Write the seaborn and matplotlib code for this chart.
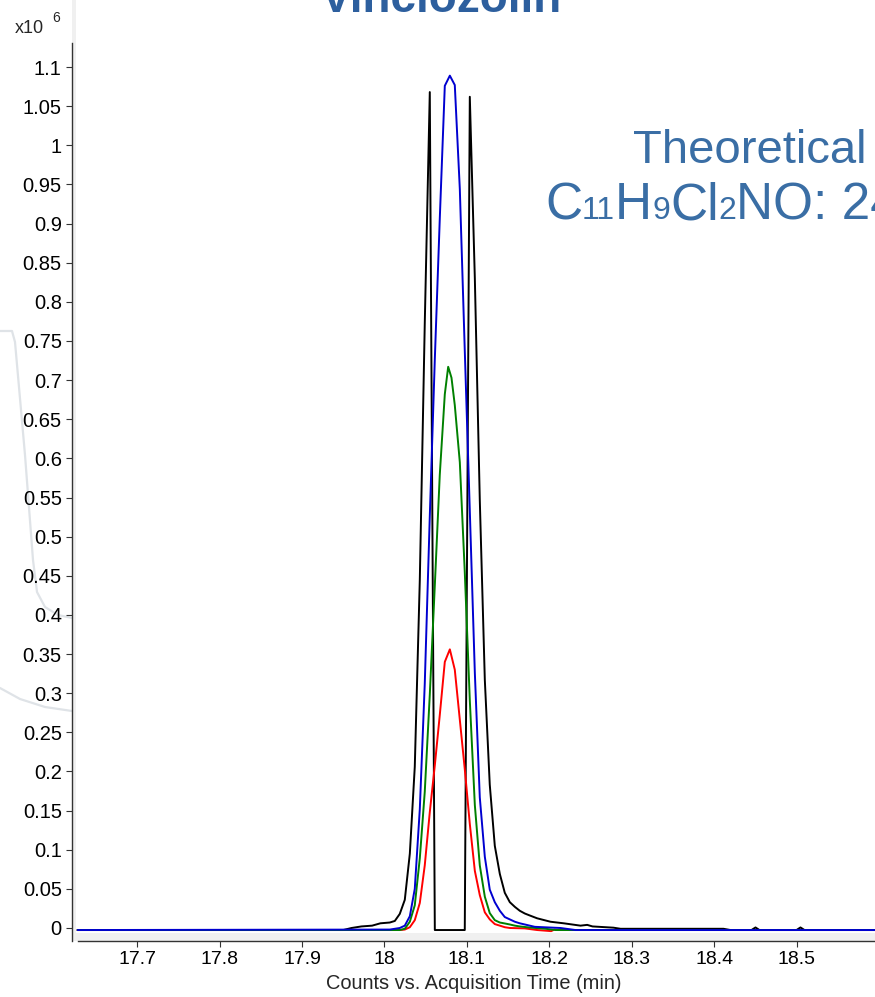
import numpy as np
import pandas as pd
import matplotlib

matplotlib.use("Agg")
import matplotlib.pyplot as plt
from matplotlib.lines import Line2D
from matplotlib.patches import Rectangle
from matplotlib.ticker import FixedLocator, FuncFormatter
import seaborn as sns

# acquisition time (min) and counts (x10^6)
black_time = [17.628, 17.950, 17.960, 17.972, 17.985, 17.995,
              18.0064, 18.0125, 18.0185, 18.0246, 18.0307, 18.0367, 18.0428, 18.0488,
              18.0549, 18.0610, 18.0670, 18.0731, 18.0792, 18.0852, 18.0913, 18.0973,
              18.1034, 18.1095, 18.1155, 18.1216, 18.1276, 18.1337, 18.1398, 18.1458,
              18.1519, 18.1580, 18.1640, 18.1701, 18.1761, 18.1850, 18.2012, 18.2173,
              18.2376, 18.2457, 18.2521, 18.2776, 18.2861, 18.4109, 18.4194, 18.4448,
              18.4497, 18.4545, 18.4994, 18.5042, 18.5091, 18.5945]
black_counts = [-0.0026, -0.0026, 0.000, 0.002, 0.003, 0.006,
                0.007, 0.009, 0.018, 0.036, 0.095, 0.206, 0.445, 0.772,
                1.068, -0.0026, -0.0026, -0.0026, -0.0026, -0.0026, -0.0026, -0.0026,
                1.062, 0.830, 0.547, 0.317, 0.183, 0.105, 0.069, 0.045,
                0.033, 0.027, 0.022, 0.0185, 0.016, 0.0124, 0.008, 0.006,
                0.003, 0.004, 0.002, 0.0004, -0.001, -0.001, -0.0026, -0.0026,
                0.0007, -0.0026, -0.0026, 0.0007, -0.0026, -0.0026]

blue_time = [17.628, 18.0064, 18.0125, 18.0185, 18.0246, 18.0307, 18.0367, 18.0428,
             18.0488, 18.0549, 18.0610, 18.0670, 18.0731, 18.0792, 18.0852, 18.0913,
             18.0973, 18.1034, 18.1095, 18.1155, 18.1216, 18.1276, 18.1337, 18.1398,
             18.1458, 18.1519, 18.1580, 18.1640, 18.1701, 18.1761, 18.1822, 18.2133,
             18.2315, 18.5945]
blue_counts = [-0.0026, -0.002, -0.001, 0.000, 0.003, 0.015, 0.050, 0.152,
               0.312, 0.526, 0.727, 0.906, 1.076, 1.089, 1.077, 0.944,
               0.738, 0.533, 0.326, 0.167, 0.091, 0.049, 0.033, 0.022,
               0.014, 0.011, 0.008, 0.006, 0.0045, 0.003, 0.0015, 0.000,
               -0.0026, -0.0026]

green_time = [17.628, 18.0185, 18.0246, 18.0307, 18.0367, 18.0428, 18.0488, 18.0549,
              18.0610, 18.0670, 18.0731, 18.0772, 18.0812, 18.0852, 18.0913, 18.0973,
              18.1034, 18.1095, 18.1155, 18.1216, 18.1276, 18.1337, 18.1398, 18.1458,
              18.1519, 18.1580, 18.1640, 18.1761, 18.1952, 18.2073, 18.5945]
green_counts = [-0.0026, -0.0026, -0.001, 0.008, 0.029, 0.089, 0.174, 0.298,
                0.438, 0.579, 0.682, 0.717, 0.703, 0.668, 0.595, 0.455,
                0.291, 0.157, 0.080, 0.040, 0.019, 0.010, 0.007, 0.0058,
                0.0045, 0.003, 0.002, 0.0006, -0.001, -0.0026, -0.0026]

red_time = [17.628, 18.0185, 18.0246, 18.0307, 18.0367, 18.0428, 18.0488, 18.0549,
            18.0610, 18.0670, 18.0731, 18.0792, 18.0852, 18.0913, 18.0973, 18.1034,
            18.1095, 18.1155, 18.1216, 18.1276, 18.1337, 18.1398, 18.1458, 18.1519,
            18.1700, 18.1850, 18.2020, 18.2060, 18.2100, 18.5945]
red_counts = [-0.0026, -0.0026, -0.002, 0.001, 0.010, 0.032, 0.080, 0.148,
              0.208, 0.272, 0.340, 0.356, 0.330, 0.266, 0.203, 0.133,
              0.073, 0.042, 0.020, 0.011, 0.005, 0.003, 0.001, 0.000,
              -0.0005, -0.0026, -0.004, -0.002, -0.0026, -0.0026]

trace_order = ["black", "red", "green", "blue"]
trace_colors = {"black": "#000000", "red": "#ff0000", "green": "#008000", "blue": "#0000d0"}

x_ticks = [17.7, 17.8, 17.9, 18.0, 18.1, 18.2, 18.3, 18.4, 18.5]
y_ticks = [0, 0.05, 0.1, 0.15, 0.2, 0.25, 0.3, 0.35, 0.4, 0.45, 0.5, 0.55,
           0.6, 0.65, 0.7, 0.75, 0.8, 0.85, 0.9, 0.95, 1.0, 1.05, 1.1]

title_text = "Vinclozolin"
note_line1 = "Theoretical"
formula_parts = [("C", 37), ("11", 23), ("H", 37), ("9", 23), ("Cl", 37), ("2", 23), ("NO: 24", 37)]
x_label = "Counts vs. Acquisition Time (min)"

W, H = 875, 997


def px(x, y):
    # slide pixel position -> figure fraction
    return x / W, 1 - y / H


def main():
    sns.set_theme(style="white")
    plt.rcParams["font.family"] = ["Liberation Sans", "DejaVu Sans"]

    frames = []
    for name, t, c in [("black", black_time, black_counts), ("red", red_time, red_counts),
                       ("green", green_time, green_counts), ("blue", blue_time, blue_counts)]:
        frames.append(pd.DataFrame({"time": t, "counts": c, "trace": name}))
    df = pd.concat(frames, ignore_index=True)

    fig = plt.figure(figsize=(W / 100, H / 100), dpi=100)

    # faint slide watermark behind the plot, left margin
    for pts in [[(0, 331), (12, 331), (15, 342), (25, 455), (33, 560), (37, 592),
                 (45, 607), (58, 615), (72, 618)],
                [(0, 688), (20, 699), (45, 707), (72, 711)]]:
        xs, ys = zip(*[px(a, b) for a, b in pts])
        fig.add_artist(Line2D(xs, ys, color="#dfe3e7", lw=1.6, zorder=0))

    ax = fig.add_axes([72 / W, 1 - 941 / H, 1 - 72 / W, 941 / H])

    # pixel scale of the original: 0.1 min = 825 px, 1.0 = 782.7 px
    ax.set_xlim(17.62121, 18.59455)
    ax.set_ylim(-0.01661, 1.18564)

    ax.set_facecolor("#f0f0f0")
    ax.add_patch(Rectangle((17.6261, -0.0070), 2.0, 2.0, facecolor="white",
                           edgecolor="none", zorder=0))

    sns.lineplot(df, x="time", y="counts", hue="trace", hue_order=trace_order,
                 palette=trace_colors, estimator=None, sort=False, legend=False,
                 linewidth=1.4, ax=ax)

    for side in ["top", "right"]:
        ax.spines[side].set_visible(False)
    ax.spines["left"].set_bounds(-0.01661, 1.1307)
    ax.spines["bottom"].set_bounds(17.628, 18.59455)
    for side in ["left", "bottom"]:
        ax.spines[side].set_color("#333333")
        ax.spines[side].set_linewidth(1.0)

    ax.xaxis.set_major_locator(FixedLocator(x_ticks))
    ax.yaxis.set_major_locator(FixedLocator(y_ticks))
    fmt = FuncFormatter(lambda v, p: f"{v:g}")
    ax.xaxis.set_major_formatter(fmt)
    ax.yaxis.set_major_formatter(fmt)
    ax.tick_params(axis="both", direction="out", length=4.3, width=0.8, color="#333333",
                   labelcolor="black")
    ax.tick_params(axis="x", labelsize=14, pad=3, bottom=True)
    ax.tick_params(axis="y", labelsize=14.5, pad=3, left=True)
    ax.set_xlabel(x_label, fontsize=14.4, labelpad=4)
    ax.set_ylabel("")

    # multiplier label
    fig.text(*px(15, 33), "x10", fontsize=13, va="baseline", ha="left")
    fig.text(*px(52, 22), "6", fontsize=10, va="baseline", ha="left")

    # slide texts around the plot
    fig.text(*px(441, 12), title_text, fontsize=33, fontweight="bold",
             color="#2d5f9e", ha="center", va="baseline")
    fig.text(*px(633, 163), note_line1, fontsize=34, color="#3a6ea5",
             ha="left", va="baseline")
    renderer = fig.canvas.get_renderer()
    x = 545 / W
    for piece, size in formula_parts:
        t = fig.text(x, 1 - 219 / H, piece, fontsize=size, color="#3a6ea5",
                     ha="left", va="baseline")
        x += t.get_window_extent(renderer).width / fig.bbox.width

    fig.savefig("out.png", dpi=100)


if __name__ == "__main__":
    main()
